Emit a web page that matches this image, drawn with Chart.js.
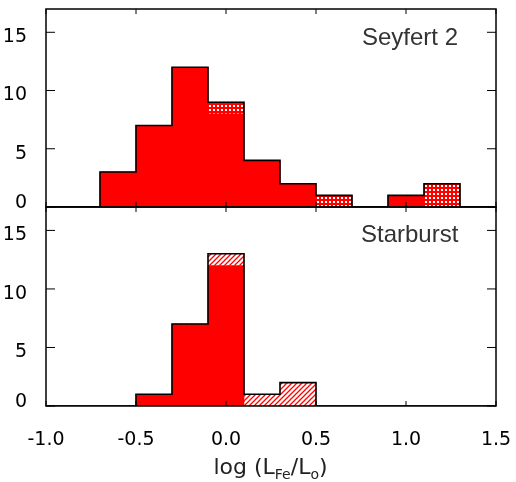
<!DOCTYPE html>
<html>
<head>
<meta charset="utf-8">
<script src="https://cdn.jsdelivr.net/npm/chart.js@4.4.1/dist/chart.umd.min.js"></script>
<style>
  html, body { margin: 0; padding: 0; background: #fff; }
  #wrap { position: relative; width: 516px; height: 482px; background: #fff; overflow: hidden; }
  .pane { position: absolute; left: 0; width: 516px; }
  .lab { position: absolute; font-family: "Liberation Sans", Arial, sans-serif; font-size: 24px; line-height: 24px; color: #333; white-space: nowrap; z-index: 5; }
  #xtitle { position: absolute; left: 0; width: 541px; text-align: center; top: 455px; font-family: "DejaVu Sans", sans-serif; font-size: 22px; line-height: 24px; color: #222; z-index: 5; }
  #xtitle sub { font-size: 14px; vertical-align: -5px; line-height: 0; }
</style>
</head>
<body>
<div id="wrap">
  <div class="pane" style="top:0;height:212px;"><canvas id="cTop" width="516" height="212"></canvas></div>
  <div class="pane" style="top:200px;height:282px;"><canvas id="cBot" width="516" height="282"></canvas></div>
  <div class="lab" style="left:362px;top:25px;">Seyfert 2</div>
  <div class="lab" style="left:361px;top:222px;">Starburst</div>
  <div id="xtitle">log (L<sub>Fe</sub>/L<sub>o</sub>)</div>
</div>
<script>
// ---- data ----
const binCenters       = [-1.0, -0.8, -0.6, -0.4, -0.2, 0.0, 0.2, 0.4, 0.6, 0.8, 1.0, 1.2, 1.4];
const binWidth         = 0.2;
const seyfertSolid     = [0, 0, 3, 7, 12, 8, 4, 2, 0, 0, 1, 0, 0];
const seyfertHatched   = [0, 0, 0, 0, 0, 1, 0, 0, 1, 0, 0, 2, 0];
const starburstSolid   = [0, 0, 0, 1, 7, 12, 0, 0, 0, 0, 0, 0, 0];
const starburstHatched = [0, 0, 0, 0, 0, 1, 1, 2, 0, 0, 0, 0, 0];
const xTickValues      = [-1.0, -0.5, 0.0, 0.5, 1.0, 1.5];
const yTickValues      = [0, 5, 10, 15];
const panelLabels      = ['Seyfert 2', 'Starburst'];

// ---- patterns ----
function crossPattern() {
  const c = document.createElement('canvas'); c.width = 4; c.height = 4;
  const g = c.getContext('2d');
  g.fillStyle = '#ff0000'; g.fillRect(0, 0, 4, 4);
  g.fillStyle = '#ffffff'; g.fillRect(1, 1, 2, 2);
  return g.createPattern(c, 'repeat');
}
function diagPattern() {
  const n = 5;
  const c = document.createElement('canvas'); c.width = n; c.height = n;
  const g = c.getContext('2d');
  g.fillStyle = '#ffffff'; g.fillRect(0, 0, n, n);
  g.strokeStyle = '#ff0000'; g.lineWidth = 1.3;
  g.beginPath();
  g.moveTo(-1, n + 1); g.lineTo(n + 1, -1);
  g.moveTo(-1, 1); g.lineTo(1, -1);
  g.moveTo(n - 1, n + 1); g.lineTo(n + 1, n - 1);
  g.stroke();
  return g.createPattern(c, 'repeat');
}

function pts(vals) { return binCenters.map((c, i) => ({ x: c, y: vals[i] })); }
function outline(a, b) {
  const p = binCenters.map((c, i) => ({ x: c - binWidth / 2, y: a[i] + b[i] }));
  p.push({ x: binCenters[binCenters.length - 1] + binWidth / 2, y: 0 });
  return p;
}

const framePlugin = {
  id: 'frame',
  afterDatasetsDraw(chart) {
    const { ctx, chartArea: a, scales: { x, y } } = chart;
    ctx.save();
    ctx.strokeStyle = '#000';
    ctx.lineWidth = 1;
    ctx.beginPath();
    xTickValues.forEach(v => {
      const px = x.getPixelForValue(v);
      ctx.moveTo(px, a.bottom); ctx.lineTo(px, a.bottom - 5);
      ctx.moveTo(px, a.top); ctx.lineTo(px, a.top + 5);
    });
    yTickValues.forEach(v => {
      const py = y.getPixelForValue(v);
      ctx.moveTo(a.left, py); ctx.lineTo(a.left + 9, py);
      ctx.moveTo(a.right, py); ctx.lineTo(a.right - 9, py);
    });
    ctx.stroke();
    ctx.lineWidth = 1.5;
    ctx.strokeRect(a.left, a.top, a.right - a.left, a.bottom - a.top);
    ctx.restore();
  }
};

function makeChart(id, solid, hatched, pattern, isBottom) {
  return new Chart(document.getElementById(id), {
    type: 'bar',
    data: {
      datasets: [
        { type: 'line', data: outline(solid, hatched), stepped: 'before', borderColor: '#000', borderWidth: 1.6,
          pointRadius: 0, fill: false, order: 0, stack: 'outline' },
        { data: pts(solid), backgroundColor: '#ff0000', borderWidth: 0, barPercentage: 1, categoryPercentage: 1, order: 1, stack: 'h' },
        { data: pts(hatched), backgroundColor: pattern, borderWidth: 0, barPercentage: 1, categoryPercentage: 1, order: 2, stack: 'h' }
      ]
    },
    options: {
      responsive: false,
      animation: false,
      events: [],
      layout: { padding: isBottom ? { left: 0, right: 20, top: 7, bottom: 0 } : { left: 0, right: 20, top: 9, bottom: 5 } },
      plugins: { legend: { display: false }, tooltip: { enabled: false }, title: { display: false } },
      scales: {
        x: {
          type: 'linear', min: -1.0, max: 1.5, stacked: true, offset: false,
          display: isBottom,
          grid: { display: false }, border: { display: false },
          ticks: { stepSize: 0.5, autoSkip: false, maxRotation: 0, padding: 15, color: '#000',
                   font: { family: 'DejaVu Sans', size: 19 },
                   callback: v => Number(v).toFixed(1) },
          afterBuildTicks: s => { s.ticks = xTickValues.map(v => ({ value: v })); },
          afterFit: s => { s.height = isBottom ? 76 : 0; s.paddingLeft = 0; s.paddingRight = 0; s.paddingTop = 0; s.paddingBottom = 0; }
        },
        y: {
          min: 0, max: 17, stacked: true,
          grid: { display: false }, border: { display: false },
          ticks: { stepSize: 5, padding: 11, labelOffset: 5, color: '#000',
                   font: { family: 'DejaVu Sans', size: 19, lineHeight: 0.9 },
                   callback: v => (v === 0 ? ['0', ''] : String(v)) },
          afterBuildTicks: s => { s.ticks = yTickValues.map(v => ({ value: v })); },
          afterFit: s => { s.width = 46; s.paddingTop = 0; s.paddingBottom = 0; s.paddingLeft = 0; s.paddingRight = 0; }
        }
      }
    },
    plugins: [framePlugin]
  });
}

makeChart('cTop', seyfertSolid, seyfertHatched, crossPattern(), false);
makeChart('cBot', starburstSolid, starburstHatched, diagPattern(), true);
</script>
</body>
</html>
